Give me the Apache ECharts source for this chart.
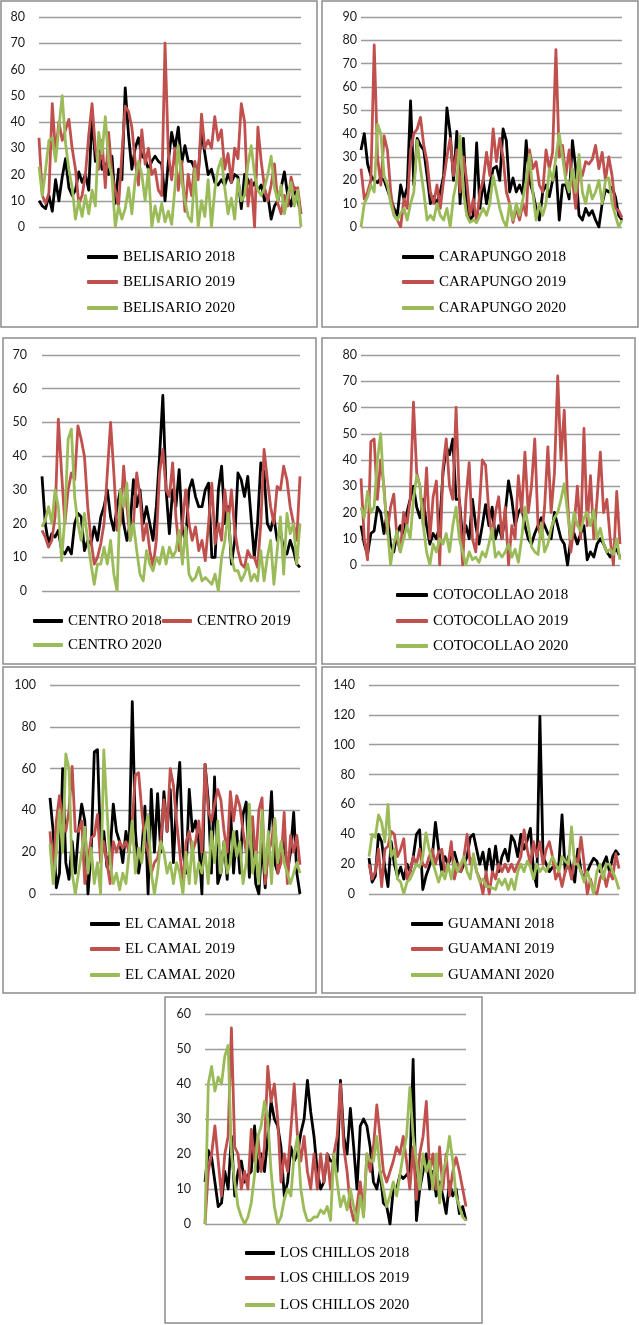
<!DOCTYPE html>
<html><head><meta charset="utf-8">
<script src="https://cdn.jsdelivr.net/npm/echarts@6/dist/echarts.min.js"></script>
<style>html,body{margin:0;padding:0;background:#fff}#c{width:639px;height:1325px}</style>
</head><body><div id="c"></div><script>
// ---- data ----
const years = ['2018', '2019', '2020'];
const stations = ['BELISARIO', 'CARAPUNGO', 'CENTRO', 'COTOCOLLAO', 'EL CAMAL', 'GUAMANI', 'LOS CHILLOS'];
const yMax = [80, 90, 70, 80, 100, 140, 60];
const yStep = [10, 10, 10, 10, 20, 20, 10];

const belisario2018 = [10,8,7,12,6,18,10,19,26,15, 12,14,21,17,20,14,43,25,29,22, 24,20,27,9,22,18,53,35,22,30, 34,27,26,22,25,27,25,24,10,25, 36,30,38,24,31,25,25,22,20,37, 28,20,22,17,16,18,16,20,17,20, 19,7,20,18,15,17,14,16,10,12, 3,8,10,15,21,12,8,15,10,5];
const belisario2019 = [34,12,9,13,47,28,40,33,37,41, 30,22,9,12,20,35,47,30,22,33, 15,36,20,14,8,28,46,44,38,25, 16,37,24,30,20,22,14,12,70,28, 18,30,14,25,6,20,12,25,18,43, 30,33,30,42,33,37,22,28,17,30, 26,47,40,8,18,0,38,25,15,10, 16,24,9,5,12,8,19,14,15,5];
const belisario2020 = [23,12,22,33,34,25,38,50,32,22, 15,3,10,4,12,5,14,8,36,28, 42,25,19,0,8,3,7,15,5,18, 25,20,10,22,0,8,2,9,2,6, 1,15,31,18,10,4,2,22,0,10, 4,18,0,14,22,26,15,5,11,3, 18,10,12,24,31,20,14,12,15,20, 27,15,10,16,5,12,17,8,14,0];

const carapungo2018 = [33,40,27,22,20,19,21,20,16,12, 8,5,18,12,17,54,18,38,35,33, 22,10,13,10,15,22,51,40,20,41, 10,38,10,3,5,36,8,20,10,18, 25,26,20,42,37,15,21,15,18,14, 37,20,15,8,3,15,18,13,20,26, 3,18,18,12,37,25,5,3,8,5, 7,3,0,10,16,15,17,13,5,3];
const carapungo2019 = [25,12,15,20,78,30,18,39,33,15, 5,3,0,12,8,33,40,42,47,35, 28,15,10,18,8,20,30,38,22,33, 15,30,20,5,12,2,15,20,32,22, 42,28,38,30,15,10,2,8,3,10, 5,33,25,28,18,15,33,25,32,76, 30,35,22,33,20,8,25,22,28,27, 29,35,25,32,20,30,22,8,7,4];
const carapungo2020 = [0,10,13,18,15,44,40,22,18,10, 5,3,6,8,3,10,15,37,25,15, 3,5,3,10,5,3,8,0,13,20, 39,15,5,2,3,2,5,8,5,10, 22,15,8,3,0,10,3,10,5,12, 20,31,15,3,10,5,10,25,20,30, 40,30,20,15,25,15,31,15,10,18, 12,15,20,10,20,21,10,5,0,3];

const centro2018 = [34,20,14,17,16,18,12,11,13,11, 20,23,22,12,15,14,19,15,22,25, 30,22,18,25,30,20,15,20,33,25, 30,20,25,20,15,25,40,58,30,17, 30,25,36,18,15,30,33,28,25,25, 30,32,10,10,30,37,20,25,8,15, 35,33,28,34,22,10,20,38,35,20, 18,22,15,18,12,11,15,12,8,7];
const centro2019 = [18,16,13,15,22,51,35,20,30,35, 33,49,45,40,25,15,8,10,14,20, 35,50,35,18,20,37,25,15,20,35, 28,15,20,12,7,15,35,42,30,28, 38,22,12,20,30,20,15,19,12,15, 9,20,32,14,20,15,30,20,30,18, 12,8,7,12,10,10,7,20,42,33, 25,20,31,30,37,33,25,20,15,34];
const centro2020 = [19,21,25,20,30,25,9,22,45,48, 28,20,15,23,15,8,2,8,8,13, 8,15,5,0,30,25,32,15,20,12, 5,3,12,8,6,10,8,13,8,13, 10,12,18,8,19,5,3,4,7,3, 4,3,2,5,0,10,15,23,10,6, 6,3,5,8,3,5,3,12,3,10, 15,2,12,22,5,23,17,20,8,20];

const cotocollao2018 = [15,8,4,12,13,22,20,12,20,8, 5,12,15,10,20,25,30,22,18,25, 15,8,12,10,15,35,45,42,48,25, 25,10,15,10,25,15,8,15,23,15, 22,10,15,10,20,32,25,15,20,22, 15,10,8,12,15,18,15,12,10,20, 15,10,8,0,10,12,8,12,15,2, 5,3,8,10,8,5,3,5,6,3];
const cotocollao2019 = [33,10,2,47,48,25,40,30,12,22, 27,10,5,20,15,25,62,35,30,15, 37,10,26,32,0,37,48,30,25,60, 25,0,25,39,10,5,20,40,38,20, 10,20,26,10,22,0,15,10,34,20, 43,20,30,48,15,10,22,45,20,35, 72,40,59,25,5,15,30,10,52,15, 34,10,25,43,20,25,10,0,28,8];
const cotocollao2020 = [22,18,28,20,22,40,50,28,15,0, 8,13,5,10,15,10,25,34,30,15, 5,0,8,5,10,8,12,5,15,22, 10,5,0,5,2,3,1,5,3,8, 14,3,5,3,5,8,3,6,1,10, 22,15,7,5,4,16,5,8,14,18, 20,25,31,20,10,20,15,13,18,20, 15,21,10,14,8,5,6,4,10,2];

const elcamal2018 = [46,30,3,10,60,15,7,25,10,30, 43,35,0,20,68,69,22,30,13,20, 43,30,25,15,30,20,92,30,10,20, 42,0,50,20,48,20,49,30,50,15, 45,63,20,10,50,30,35,25,0,62, 45,10,56,5,10,25,7,42,10,30, 10,38,44,8,30,5,0,25,3,25, 49,15,10,20,25,10,20,39,10,0];
const elcamal2019 = [30,10,35,47,35,30,40,61,30,30, 35,5,15,27,28,38,15,25,15,5, 25,20,25,22,25,20,35,57,58,40, 25,20,10,15,17,25,45,30,60,52, 35,20,5,25,30,20,25,35,20,62, 40,35,43,50,45,30,20,49,35,47, 42,30,20,30,37,15,40,46,5,20, 25,36,10,15,39,5,28,20,28,14];
const elcamal2020 = [24,5,20,40,20,67,60,10,0,10, 20,32,10,22,5,15,0,69,40,15, 5,10,2,10,5,20,35,10,22,15, 30,38,10,0,10,25,20,10,15,5, 15,10,0,20,5,25,5,15,10,20, 5,30,15,35,10,25,10,15,30,18, 25,5,15,43,10,20,5,40,10,30, 5,36,15,25,15,10,5,10,15,10];

const guamani2018 = [24,8,12,40,35,18,5,35,20,12, 18,10,20,15,25,40,43,3,12,18, 25,48,30,15,25,20,25,28,20,15, 20,25,38,40,30,20,28,15,30,15, 32,15,25,30,22,39,35,25,40,30, 36,44,15,5,119,25,20,15,18,18, 20,53,15,25,15,8,30,15,10,15, 20,24,22,15,20,25,15,25,29,26];
const guamani2019 = [20,10,15,30,5,30,32,42,40,25, 30,37,10,15,25,20,30,20,18,25, 30,20,28,30,15,20,35,10,20,15, 25,40,20,25,15,10,0,15,0,15, 10,20,15,20,15,20,15,20,25,43, 30,20,35,25,35,20,30,35,25,10, 15,5,15,20,10,25,20,38,20,0, 10,2,0,10,15,5,15,10,27,17];
const guamani2020 = [25,40,38,53,48,35,60,25,30,10, 8,0,8,10,15,20,18,25,41,30, 22,15,8,15,10,20,10,22,15,20, 25,15,10,27,15,8,10,5,5,4, 3,10,6,10,3,10,3,15,20,15, 22,18,10,20,15,18,15,20,25,20, 15,25,22,20,45,20,20,15,8,15, 8,0,15,20,10,20,20,15,10,3];

const loschillos2018 = [12,21,19,12,5,6,15,10,25,8, 15,18,12,14,15,28,15,20,15,25, 35,30,28,22,8,12,22,18,20,26, 30,41,32,25,15,10,12,20,18,18, 15,41,25,20,33,22,10,28,30,28, 22,12,10,15,6,5,0,10,10,14, 13,14,15,47,1,10,15,20,10,15, 8,12,8,3,12,8,10,3,5,1];
const loschillos2019 = [0,15,20,28,18,8,20,25,56,22, 20,10,15,10,27,18,25,15,22,45, 35,40,30,12,20,15,27,40,25,18, 25,15,10,20,10,20,12,20,10,20, 25,40,22,15,5,1,5,12,3,20, 15,22,34,25,15,12,15,18,22,20, 25,18,10,22,7,20,25,35,15,20, 10,22,10,20,8,15,19,15,10,5];
const loschillos2020 = [0,40,45,38,42,40,48,51,20,12, 5,2,0,2,6,14,25,28,35,30, 15,5,0,2,7,10,8,20,25,10, 4,1,1,2,2,4,3,5,1,20, 12,5,8,4,10,5,0,8,2,20, 18,18,25,15,10,5,8,12,8,14, 20,25,39,25,18,10,20,15,18,10, 20,6,15,18,25,18,8,5,2,1];

const seriesData = [
  [belisario2018, belisario2019, belisario2020],
  [carapungo2018, carapungo2019, carapungo2020],
  [centro2018, centro2019, centro2020],
  [cotocollao2018, cotocollao2019, cotocollao2020],
  [elcamal2018, elcamal2019, elcamal2020],
  [guamani2018, guamani2019, guamani2020],
  [loschillos2018, loschillos2019, loschillos2020]
];

// ---- layout / style ----
const colors = ['#000000', '#c0504d', '#9bbb59'];
const layout = [
  {box:[1,1,316,326], grid:{left:39,top:17,width:262,height:210}, margin:14, iw:31, leg:[[87,257],[87,282],[87,308]]},
  {box:[322,1,316,326], grid:{left:361,top:17,width:261,height:210}, margin:4, iw:32, leg:[[402,257],[402,282],[402,308]]},
  {box:[3,338,313,326], grid:{left:42,top:355,width:258,height:236}, margin:15, iw:30, leg:[[33,621],[162,621],[33,645]]},
  {box:[322,338,313,326], grid:{left:361,top:355,width:259,height:210}, margin:4, iw:32, leg:[[396,595],[396,621],[396,646]]},
  {box:[3,667,313,326], grid:{left:50,top:685,width:250,height:209}, margin:14, iw:30, leg:[[90,924],[90,949],[90,975]]},
  {box:[322,667,313,326], grid:{left:369,top:685,width:250,height:209}, margin:14, iw:32, leg:[[411,924],[411,949],[411,975]]},
  {box:[165,997,317,326], grid:{left:205,top:1014,width:261,height:210}, margin:14, iw:30, leg:[[245,1253],[245,1278],[245,1305]]}
];

const grids = [], xAxes = [], yAxes = [], series = [], legends = [], graphics = [];
stations.forEach((st, p) => {
  const L = layout[p];
  grids.push(L.grid);
  const n = Math.max(...seriesData[p].map(a => a.length));
  xAxes.push({type:'category', gridIndex:p, boundaryGap:false, data:Array.from({length:n}, (_, i) => i),
    axisLine:{show:false}, axisTick:{show:false}, axisLabel:{show:false}, splitLine:{show:false}});
  yAxes.push({type:'value', gridIndex:p, min:0, max:yMax[p], interval:yStep[p],
    axisLine:{show:false}, axisTick:{show:false},
    axisLabel:{margin:L.margin, fontFamily:'Lato', fontSize:12.5, color:'#1a1a1a'},
    splitLine:{lineStyle:{color:'#9c9c9c', width:1.3}}});
  years.forEach((yr, k) => {
    const name = st + ' ' + yr;
    series.push({type:'line', name, xAxisIndex:p, yAxisIndex:p, data:seriesData[p][k],
      showSymbol:false, symbol:'none', animation:false, color:colors[k],
      lineStyle:{width:2.8, color:colors[k], join:'round'}, z:2 + k});
    legends.push({data:[name], left:L.leg[k][0], top:L.leg[k][1] - 9, orient:'horizontal',
      icon:'roundRect', itemWidth:L.iw, itemHeight:4, itemGap:0, padding:0, selectedMode:false,
      textStyle:{fontFamily:'Liberation Serif', fontSize:15, color:'#000', lineHeight:18}});
  });
  graphics.push({type:'rect', shape:{x:L.box[0], y:L.box[1], width:L.box[2], height:L.box[3]},
    style:{fill:'none', stroke:'#8c8c8c', lineWidth:1.5}, silent:true});
});

const chart = echarts.init(document.getElementById('c'), null, {renderer:'canvas'});
chart.setOption({
  backgroundColor:'#ffffff',
  animation:false,
  grid:grids, xAxis:xAxes, yAxis:yAxes, series, legend:legends, graphic:graphics
});
</script></body></html>
